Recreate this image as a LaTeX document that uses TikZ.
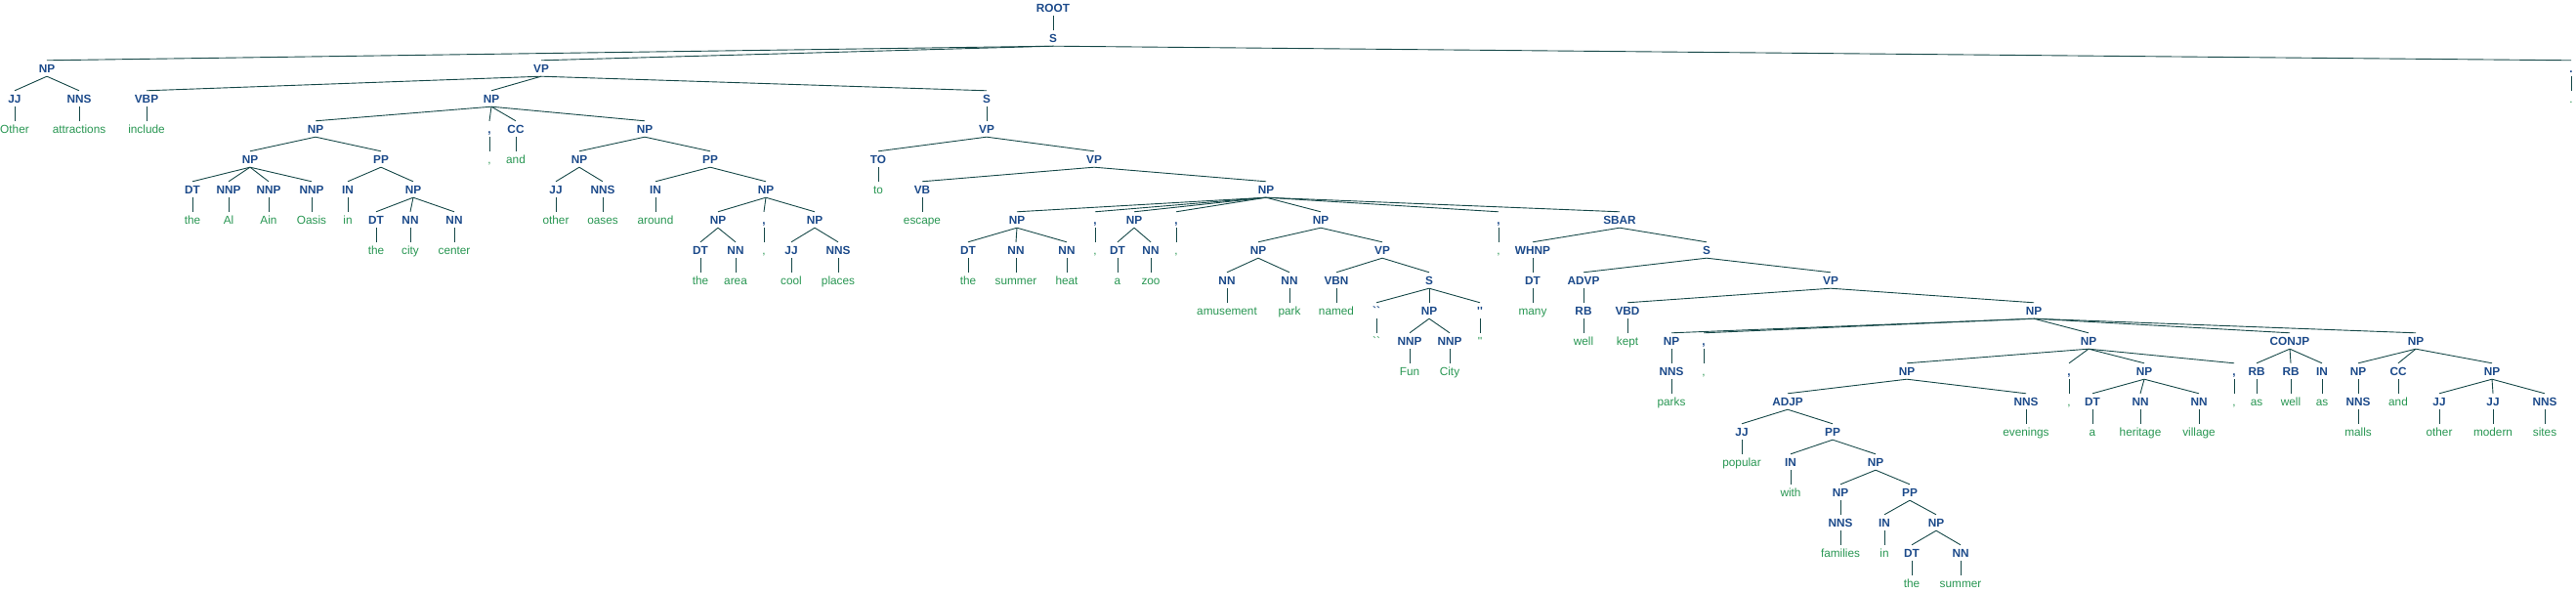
\documentclass[tikz,border=0pt]{standalone}
\usepackage{fontspec}
\setmainfont{Liberation Sans}
\usepackage{tikz}
\definecolor{lblblue}{RGB}{28,74,138}
\definecolor{wrdgreen}{RGB}{40,150,82}
\definecolor{branchcol}{RGB}{22,72,72}

\begin{document}
\begin{tikzpicture}[x=1pt,y=-31pt,
  every node/.style={font=\fontsize{11.8}{14}\selectfont,inner xsep=1pt,
    inner ysep=3.75pt,text height=8.5pt,text depth=0pt},
  lbl/.style={text=lblblue,font=\fontsize{11.8}{14}\selectfont\bfseries},
  wrd/.style={text=wrdgreen},
  branch/.style={draw=branchcol,line width=0.9pt}]
  \useasboundingbox (0,-0.258) rectangle (2637,19.29);
  % top of the tree
  \node[lbl] (root)    at (1078,0) {ROOT};
  \node[lbl] (s_top)   at (1078,1) {S};
  \node[lbl] (np_a)    at (48,2)   {NP};
  \node[lbl] (jj_a)    at (15,3)   {JJ};   \node[wrd] (w_other)   at (15,4)   {Other};
  \node[lbl] (nns_a)   at (81,3)   {NNS};  \node[wrd] (w_attr)    at (81,4)   {attractions};
  \node[lbl] (vp_top)  at (554,2)  {VP};
  \node[lbl] (vbp)     at (150,3)  {VBP};  \node[wrd] (w_include) at (150,4)  {include};
  \node[lbl] (pd)      at (2632,2) {.};    \node[wrd] (w_pd)      at (2632,3) {.};
  % the Al Ain Oasis ... around the area, cool places
  \node[lbl] (np_b)    at (503,3)  {NP};
  \node[lbl] (np_c)    at (323,4)  {NP};
  \node[lbl] (np_d)    at (256,5)  {NP};
  \node[lbl] (dt_d)    at (197,6)  {DT};   \node[wrd] (w_the1)    at (197,7)  {the};
  \node[lbl] (nnp_1)   at (234,6)  {NNP};  \node[wrd] (w_al)      at (234,7)  {Al};
  \node[lbl] (nnp_2)   at (275,6)  {NNP};  \node[wrd] (w_ain)     at (275,7)  {Ain};
  \node[lbl] (nnp_3)   at (319,6)  {NNP};  \node[wrd] (w_oasis)   at (319,7)  {Oasis};
  \node[lbl] (pp_c)    at (390,5)  {PP};
  \node[lbl] (in_c)    at (356,6)  {IN};   \node[wrd] (w_in1)     at (356,7)  {in};
  \node[lbl] (np_e)    at (423,6)  {NP};
  \node[lbl] (dt_e)    at (385,7)  {DT};   \node[wrd] (w_the2)    at (385,8)  {the};
  \node[lbl] (nn_e1)   at (420,7)  {NN};   \node[wrd] (w_city)    at (420,8)  {city};
  \node[lbl] (nn_e2)   at (465,7)  {NN};   \node[wrd] (w_center)  at (465,8)  {center};
  \node[lbl] (cm_b)    at (501,4)  {,};    \node[wrd] (w_cm1)     at (501,5)  {,};
  \node[lbl] (cc_b)    at (528,4)  {CC};   \node[wrd] (w_and1)    at (528,5)  {and};
  \node[lbl] (np_f)    at (660,4)  {NP};
  \node[lbl] (np_g)    at (593,5)  {NP};
  \node[lbl] (jj_g)    at (569,6)  {JJ};   \node[wrd] (w_other2)  at (569,7)  {other};
  \node[lbl] (nns_g)   at (617,6)  {NNS};  \node[wrd] (w_oases)   at (617,7)  {oases};
  \node[lbl] (pp_f)    at (727,5)  {PP};
  \node[lbl] (in_f)    at (671,6)  {IN};   \node[wrd] (w_around)  at (671,7)  {around};
  \node[lbl] (np_h)    at (784,6)  {NP};
  \node[lbl] (np_i)    at (735,7)  {NP};
  \node[lbl] (dt_i)    at (717,8)  {DT};   \node[wrd] (w_the3)    at (717,9)  {the};
  \node[lbl] (nn_i)    at (753,8)  {NN};   \node[wrd] (w_area)    at (753,9)  {area};
  \node[lbl] (cm_h)    at (782,7)  {,};    \node[wrd] (w_cm2)     at (782,8)  {,};
  \node[lbl] (np_j)    at (834,7)  {NP};
  \node[lbl] (jj_j)    at (810,8)  {JJ};   \node[wrd] (w_cool)    at (810,9)  {cool};
  \node[lbl] (nns_j)   at (858,8)  {NNS};  \node[wrd] (w_places)  at (858,9)  {places};
  % to escape the summer heat ...
  \node[lbl] (s_inf)   at (1010,3) {S};
  \node[lbl] (vp_inf)  at (1010,4) {VP};
  \node[lbl] (to)      at (899,5)  {TO};   \node[wrd] (w_to)      at (899,6)  {to};
  \node[lbl] (vp_esc)  at (1120,5) {VP};
  \node[lbl] (vb)      at (944,6)  {VB};   \node[wrd] (w_escape)  at (944,7)  {escape};
  \node[lbl] (np_k)    at (1296,6) {NP};
  \node[lbl] (np_l)    at (1041,7) {NP};
  \node[lbl] (dt_l)    at (991,8)  {DT};   \node[wrd] (w_the4)    at (991,9)  {the};
  \node[lbl] (nn_l1)   at (1040,8) {NN};   \node[wrd] (w_summer1) at (1040,9) {summer};
  \node[lbl] (nn_l2)   at (1092,8) {NN};   \node[wrd] (w_heat)    at (1092,9) {heat};
  \node[lbl] (cm_k1)   at (1121,7) {,};    \node[wrd] (w_cm3)     at (1121,8) {,};
  \node[lbl] (np_m)    at (1161,7) {NP};
  \node[lbl] (dt_m)    at (1144,8) {DT};   \node[wrd] (w_a1)      at (1144,9) {a};
  \node[lbl] (nn_m)    at (1178,8) {NN};   \node[wrd] (w_zoo)     at (1178,9) {zoo};
  \node[lbl] (cm_k2)   at (1204,7) {,};    \node[wrd] (w_cm4)     at (1204,8) {,};
  \node[lbl] (np_n)    at (1352,7) {NP};
  \node[lbl] (np_o)    at (1288,8) {NP};
  \node[lbl] (nn_o1)   at (1256,9) {NN};   \node[wrd] (w_amuse)   at (1256,10) {amusement};
  \node[lbl] (nn_o2)   at (1320,9) {NN};   \node[wrd] (w_park)    at (1320,10) {park};
  \node[lbl] (vp_n)    at (1415,8) {VP};
  \node[lbl] (vbn)     at (1368,9) {VBN};  \node[wrd] (w_named)   at (1368,10) {named};
  \node[lbl] (s_n)     at (1463,9) {S};
  \node[lbl] (lq)      at (1409,10) {\textasciigrave\textasciigrave};
  \node[wrd] (w_lq)    at (1409,11) {\textasciigrave\textasciigrave};
  \node[lbl] (np_p)    at (1463,10) {NP};
  \node[lbl] (nnp_p1)  at (1443,11) {NNP}; \node[wrd] (w_fun)     at (1443,12) {Fun};
  \node[lbl] (nnp_p2)  at (1484,11) {NNP}; \node[wrd] (w_cityb)   at (1484,12) {City};
  \node[lbl] (rq)      at (1515,10) {\textquotesingle\textquotesingle};
  \node[wrd] (w_rq)    at (1515,11) {\textquotesingle\textquotesingle};
  \node[lbl] (cm_k3)   at (1534,7) {,};    \node[wrd] (w_cm5)     at (1534,8) {,};
  % many well kept parks ...
  \node[lbl] (sbar)    at (1658,7) {SBAR};
  \node[lbl] (whnp)    at (1569,8) {WHNP};
  \node[lbl] (dt_q)    at (1569,9) {DT};   \node[wrd] (w_many)    at (1569,10) {many};
  \node[lbl] (s_r)     at (1747,8) {S};
  \node[lbl] (advp)    at (1621,9) {ADVP};
  \node[lbl] (rb_r)    at (1621,10) {RB};  \node[wrd] (w_well1)   at (1621,11) {well};
  \node[lbl] (vp_r)    at (1874,9) {VP};
  \node[lbl] (vbd)     at (1666,10) {VBD}; \node[wrd] (w_kept)    at (1666,11) {kept};
  \node[lbl] (np_s)    at (2082,10) {NP};
  \node[lbl] (np_t)    at (1711,11) {NP};
  \node[lbl] (nns_t)   at (1711,12) {NNS}; \node[wrd] (w_parks)   at (1711,13) {parks};
  \node[lbl] (cm_s1)   at (1744,11) {,};   \node[wrd] (w_cm6)     at (1744,12) {,};
  \node[lbl] (np_u)    at (2138,11) {NP};
  \node[lbl] (np_v)    at (1952,12) {NP};
  \node[lbl] (adjp)    at (1830,13) {ADJP};
  \node[lbl] (jj_w)    at (1783,14) {JJ};  \node[wrd] (w_popular) at (1783,15) {popular};
  \node[lbl] (pp_w)    at (1876,14) {PP};
  \node[lbl] (in_w)    at (1833,15) {IN};  \node[wrd] (w_with)    at (1833,16) {with};
  \node[lbl] (np_x)    at (1920,15) {NP};
  \node[lbl] (np_y)    at (1884,16) {NP};
  \node[lbl] (nns_y)   at (1884,17) {NNS}; \node[wrd] (w_families) at (1884,18) {families};
  \node[lbl] (pp_z)    at (1955,16) {PP};
  \node[lbl] (in_z)    at (1929,17) {IN};  \node[wrd] (w_in2)     at (1929,18) {in};
  \node[lbl] (np_z)    at (1982,17) {NP};
  \node[lbl] (dt_z)    at (1957,18) {DT};  \node[wrd] (w_the5)    at (1957,19) {the};
  \node[lbl] (nn_z)    at (2007,18) {NN};  \node[wrd] (w_summer2) at (2007,19) {summer};
  \node[lbl] (nns_v)   at (2074,13) {NNS}; \node[wrd] (w_evenings) at (2074,14) {evenings};
  \node[lbl] (cm_u1)   at (2118,12) {,};   \node[wrd] (w_cm7)     at (2118,13) {,};
  \node[lbl] (np_aa)   at (2195,12) {NP};
  \node[lbl] (dt_aa)   at (2142,13) {DT};  \node[wrd] (w_a2)      at (2142,14) {a};
  \node[lbl] (nn_aa1)  at (2191,13) {NN};  \node[wrd] (w_heritage) at (2191,14) {heritage};
  \node[lbl] (nn_aa2)  at (2251,13) {NN};  \node[wrd] (w_village) at (2251,14) {village};
  \node[lbl] (cm_u2)   at (2287,12) {,};   \node[wrd] (w_cm8)     at (2287,13) {,};
  \node[lbl] (conjp)   at (2344,11) {CONJP};
  \node[lbl] (rb_c1)   at (2310,12) {RB};  \node[wrd] (w_as1)     at (2310,13) {as};
  \node[lbl] (rb_c2)   at (2345,12) {RB};  \node[wrd] (w_well2)   at (2345,13) {well};
  \node[lbl] (in_c2)   at (2377,12) {IN};  \node[wrd] (w_as2)     at (2377,13) {as};
  \node[lbl] (np_bb)   at (2473,11) {NP};
  \node[lbl] (np_cc)   at (2414,12) {NP};
  \node[lbl] (nns_cc)  at (2414,13) {NNS}; \node[wrd] (w_malls)   at (2414,14) {malls};
  \node[lbl] (cc_bb)   at (2455,12) {CC};  \node[wrd] (w_and2)    at (2455,13) {and};
  \node[lbl] (np_dd)   at (2551,12) {NP};
  \node[lbl] (jj_d1)   at (2497,13) {JJ};  \node[wrd] (w_other3)  at (2497,14) {other};
  \node[lbl] (jj_d2)   at (2552,13) {JJ};  \node[wrd] (w_modern)  at (2552,14) {modern};
  \node[lbl] (nns_d)   at (2605,13) {NNS}; \node[wrd] (w_sites)   at (2605,14) {sites};
  % branches
  \path[branch]
  (root.south) edge (s_top.north)
  (s_top.south) edge (np_a.north) (s_top.south) edge (vp_top.north) (s_top.south) edge (pd.north)
  (np_a.south) edge (jj_a.north) (np_a.south) edge (nns_a.north)
  (jj_a.south) edge (w_other.north) (nns_a.south) edge (w_attr.north)
  (vp_top.south) edge (vbp.north) (vp_top.south) edge (np_b.north) (vp_top.south) edge (s_inf.north)
  (vbp.south) edge (w_include.north) (pd.south) edge (w_pd.north)
  (np_b.south) edge (np_c.north) (np_b.south) edge (cm_b.north)
  (np_b.south) edge (cc_b.north) (np_b.south) edge (np_f.north)
  (np_c.south) edge (np_d.north) (np_c.south) edge (pp_c.north)
  (np_d.south) edge (dt_d.north) (np_d.south) edge (nnp_1.north)
  (np_d.south) edge (nnp_2.north) (np_d.south) edge (nnp_3.north)
  (dt_d.south) edge (w_the1.north) (nnp_1.south) edge (w_al.north)
  (nnp_2.south) edge (w_ain.north) (nnp_3.south) edge (w_oasis.north)
  (pp_c.south) edge (in_c.north) (pp_c.south) edge (np_e.north) (in_c.south) edge (w_in1.north)
  (np_e.south) edge (dt_e.north) (np_e.south) edge (nn_e1.north) (np_e.south) edge (nn_e2.north)
  (dt_e.south) edge (w_the2.north) (nn_e1.south) edge (w_city.north) (nn_e2.south) edge (w_center.north)
  (cm_b.south) edge (w_cm1.north) (cc_b.south) edge (w_and1.north)
  (np_f.south) edge (np_g.north) (np_f.south) edge (pp_f.north)
  (np_g.south) edge (jj_g.north) (np_g.south) edge (nns_g.north)
  (jj_g.south) edge (w_other2.north) (nns_g.south) edge (w_oases.north)
  (pp_f.south) edge (in_f.north) (pp_f.south) edge (np_h.north) (in_f.south) edge (w_around.north)
  (np_h.south) edge (np_i.north) (np_h.south) edge (cm_h.north) (np_h.south) edge (np_j.north)
  (np_i.south) edge (dt_i.north) (np_i.south) edge (nn_i.north)
  (dt_i.south) edge (w_the3.north) (nn_i.south) edge (w_area.north) (cm_h.south) edge (w_cm2.north)
  (np_j.south) edge (jj_j.north) (np_j.south) edge (nns_j.north)
  (jj_j.south) edge (w_cool.north) (nns_j.south) edge (w_places.north);
  \path[branch]
  (s_inf.south) edge (vp_inf.north)
  (vp_inf.south) edge (to.north) (vp_inf.south) edge (vp_esc.north) (to.south) edge (w_to.north)
  (vp_esc.south) edge (vb.north) (vp_esc.south) edge (np_k.north) (vb.south) edge (w_escape.north)
  (np_k.south) edge (np_l.north) (np_k.south) edge (cm_k1.north) (np_k.south) edge (np_m.north)
  (np_k.south) edge (cm_k2.north) (np_k.south) edge (np_n.north) (np_k.south) edge (cm_k3.north)
  (np_k.south) edge (sbar.north)
  (np_l.south) edge (dt_l.north) (np_l.south) edge (nn_l1.north) (np_l.south) edge (nn_l2.north)
  (dt_l.south) edge (w_the4.north) (nn_l1.south) edge (w_summer1.north) (nn_l2.south) edge (w_heat.north)
  (cm_k1.south) edge (w_cm3.north) (cm_k2.south) edge (w_cm4.north) (cm_k3.south) edge (w_cm5.north)
  (np_m.south) edge (dt_m.north) (np_m.south) edge (nn_m.north)
  (dt_m.south) edge (w_a1.north) (nn_m.south) edge (w_zoo.north)
  (np_n.south) edge (np_o.north) (np_n.south) edge (vp_n.north)
  (np_o.south) edge (nn_o1.north) (np_o.south) edge (nn_o2.north)
  (nn_o1.south) edge (w_amuse.north) (nn_o2.south) edge (w_park.north)
  (vp_n.south) edge (vbn.north) (vp_n.south) edge (s_n.north) (vbn.south) edge (w_named.north)
  (s_n.south) edge (lq.north) (s_n.south) edge (np_p.north) (s_n.south) edge (rq.north)
  (lq.south) edge (w_lq.north) (rq.south) edge (w_rq.north)
  (np_p.south) edge (nnp_p1.north) (np_p.south) edge (nnp_p2.north)
  (nnp_p1.south) edge (w_fun.north) (nnp_p2.south) edge (w_cityb.north);
  \path[branch]
  (sbar.south) edge (whnp.north) (sbar.south) edge (s_r.north)
  (whnp.south) edge (dt_q.north) (dt_q.south) edge (w_many.north)
  (s_r.south) edge (advp.north) (s_r.south) edge (vp_r.north)
  (advp.south) edge (rb_r.north) (rb_r.south) edge (w_well1.north)
  (vp_r.south) edge (vbd.north) (vp_r.south) edge (np_s.north) (vbd.south) edge (w_kept.north)
  (np_s.south) edge (np_t.north) (np_s.south) edge (cm_s1.north) (np_s.south) edge (np_u.north)
  (np_s.south) edge (conjp.north) (np_s.south) edge (np_bb.north)
  (np_t.south) edge (nns_t.north) (nns_t.south) edge (w_parks.north) (cm_s1.south) edge (w_cm6.north)
  (np_u.south) edge (np_v.north) (np_u.south) edge (cm_u1.north)
  (np_u.south) edge (np_aa.north) (np_u.south) edge (cm_u2.north)
  (np_v.south) edge (adjp.north) (np_v.south) edge (nns_v.north) (nns_v.south) edge (w_evenings.north)
  (adjp.south) edge (jj_w.north) (adjp.south) edge (pp_w.north) (jj_w.south) edge (w_popular.north)
  (pp_w.south) edge (in_w.north) (pp_w.south) edge (np_x.north) (in_w.south) edge (w_with.north)
  (np_x.south) edge (np_y.north) (np_x.south) edge (pp_z.north)
  (np_y.south) edge (nns_y.north) (nns_y.south) edge (w_families.north)
  (pp_z.south) edge (in_z.north) (pp_z.south) edge (np_z.north) (in_z.south) edge (w_in2.north)
  (np_z.south) edge (dt_z.north) (np_z.south) edge (nn_z.north)
  (dt_z.south) edge (w_the5.north) (nn_z.south) edge (w_summer2.north)
  (cm_u1.south) edge (w_cm7.north) (cm_u2.south) edge (w_cm8.north)
  (np_aa.south) edge (dt_aa.north) (np_aa.south) edge (nn_aa1.north) (np_aa.south) edge (nn_aa2.north)
  (dt_aa.south) edge (w_a2.north) (nn_aa1.south) edge (w_heritage.north) (nn_aa2.south) edge (w_village.north)
  (conjp.south) edge (rb_c1.north) (conjp.south) edge (rb_c2.north) (conjp.south) edge (in_c2.north)
  (rb_c1.south) edge (w_as1.north) (rb_c2.south) edge (w_well2.north) (in_c2.south) edge (w_as2.north)
  (np_bb.south) edge (np_cc.north) (np_bb.south) edge (cc_bb.north) (np_bb.south) edge (np_dd.north)
  (np_cc.south) edge (nns_cc.north) (nns_cc.south) edge (w_malls.north) (cc_bb.south) edge (w_and2.north)
  (np_dd.south) edge (jj_d1.north) (np_dd.south) edge (jj_d2.north) (np_dd.south) edge (nns_d.north)
  (jj_d1.south) edge (w_other3.north) (jj_d2.south) edge (w_modern.north) (nns_d.south) edge (w_sites.north);
\end{tikzpicture}
\end{document}
